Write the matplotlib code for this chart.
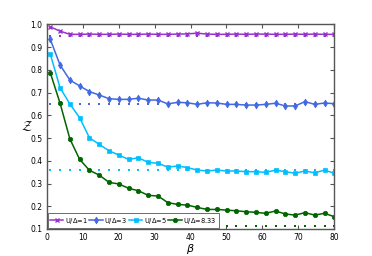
import numpy as np
import matplotlib
matplotlib.use("Agg")
import matplotlib.pyplot as plt

beta = np.linspace(1, 80, 30)

z_u1 = [0.989, 0.970, 0.956, 0.956, 0.957, 0.956, 0.956, 0.957, 0.956, 0.956,
        0.957, 0.956, 0.956, 0.957, 0.958, 0.961, 0.957, 0.956, 0.956, 0.957,
        0.956, 0.957, 0.957, 0.956, 0.956, 0.957, 0.956, 0.957, 0.956, 0.956]
z_u3 = [0.934, 0.821, 0.755, 0.729, 0.704, 0.689, 0.673, 0.670, 0.670, 0.675,
        0.667, 0.667, 0.650, 0.657, 0.655, 0.648, 0.655, 0.654, 0.648, 0.648,
        0.645, 0.645, 0.648, 0.653, 0.641, 0.641, 0.660, 0.648, 0.654, 0.651]
z_u5 = [0.869, 0.721, 0.650, 0.589, 0.501, 0.472, 0.444, 0.425, 0.406, 0.413,
        0.393, 0.389, 0.372, 0.377, 0.370, 0.359, 0.355, 0.359, 0.355, 0.355,
        0.352, 0.352, 0.349, 0.359, 0.352, 0.345, 0.355, 0.347, 0.359, 0.345]
z_u833 = [0.787, 0.653, 0.496, 0.406, 0.358, 0.337, 0.305, 0.298, 0.279, 0.268,
          0.248, 0.245, 0.216, 0.208, 0.205, 0.195, 0.186, 0.186, 0.183, 0.180,
          0.176, 0.173, 0.169, 0.179, 0.166, 0.161, 0.172, 0.161, 0.169, 0.154]
asymptotes = [0.948, 0.648, 0.36, 0.115]
labels = [r'U/$\Delta$=1', r'U/$\Delta$=3', r'U/$\Delta$=5', r'U/$\Delta$=8.33']

colors = ['#9932CC', '#4169E1', '#00BFFF', '#006400']
markers = ['x', 'd', 's', 'o']
msizes = [2.5, 3.5, 3.5, 3.2]

fig = plt.figure(figsize=(3.72, 2.56), dpi=100)
ax = fig.add_axes([0.1255, 0.1055, 0.7732, 0.7995])

series = [z_u1, z_u3, z_u5, z_u833]
for s, a, c, m, ms, lab in zip(series, asymptotes, colors, markers, msizes, labels):
    ax.plot(beta, [a] * len(beta), linestyle='none', marker='s', ms=2.0,
            color=c, mew=0)
    ax.plot(beta, s, color=c, marker=m, ms=ms, lw=1.1, label=lab,
            mew=1 if m == 'x' else 0.5)

ax.set_xlim(0, 80)
ax.set_ylim(0.1, 1.0)
ax.set_xticks(np.arange(0, 81, 10))
ax.set_yticks(np.arange(0.1, 1.01, 0.1))
ax.set_yticklabels(['%.1f' % v for v in np.arange(0.1, 1.01, 0.1)])
ax.tick_params(direction='in', top=True, right=True, labelsize=5.5, length=3,
               width=0.8, color='#555555', pad=3)
for sp in ax.spines.values():
    sp.set_color('#555555')
    sp.set_linewidth(1.0)

ax.set_xlabel(r'$\beta$', fontsize=8)
ax.xaxis.set_label_coords(0.5, -0.062)
ax.set_ylabel(r'$\mathcal{Z}$', fontsize=10, rotation=0)
ax.yaxis.set_label_coords(-0.07, 0.47)

leg = ax.legend(loc='lower left', ncol=4, fontsize=4.8, handlelength=2.0,
                handletextpad=0.2, columnspacing=0.3, borderpad=0.35,
                fancybox=False, framealpha=1, borderaxespad=0.15)
leg.get_frame().set_edgecolor('#555555')
leg.get_frame().set_linewidth(0.6)

fig.savefig('out.png', dpi=100)
